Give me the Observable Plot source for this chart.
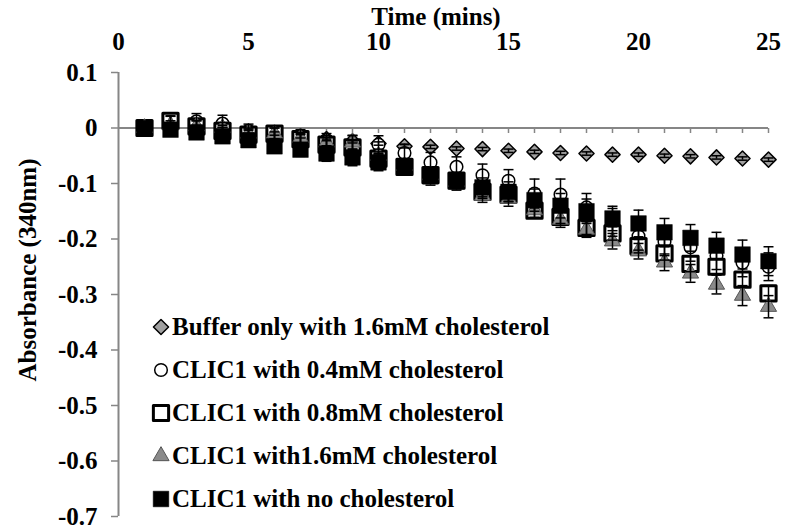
<!DOCTYPE html>
<html><head><meta charset="utf-8">
<script src="https://cdn.jsdelivr.net/npm/d3@7"></script>
<script src="https://cdn.jsdelivr.net/npm/@observablehq/plot@0.6"></script>
<style>
body{margin:0;background:#fff;}
#wrap{position:relative;width:788px;height:532px;font-family:"Liberation Serif","Times New Roman",serif;font-weight:bold;color:#000;}
#legend{position:absolute;left:150px;top:305px;font-size:25px;}
.item{display:flex;align-items:center;height:43px;white-space:nowrap;}
.item svg{width:22px;height:22px;}
#xtitle{position:absolute;left:436px;top:17px;transform:translate(-50%,-50%);font-size:25px;white-space:nowrap;}
#ytitle{position:absolute;left:28px;top:270px;transform:translate(-50%,-50%) rotate(-90deg);font-size:25px;white-space:nowrap;}
</style></head><body><div id="wrap"><div id="chart"></div><div id="xtitle">Time (mins)</div><div id="ytitle">Absorbance (340nm)</div><div id="legend"></div></div>
<script>
const times = [1,2,3,4,5,6,7,8,9,10,11,12,13,14,15,16,17,18,19,20,21,22,23,24,25];
const seriesNames = [
  "Buffer only with 1.6mM cholesterol",
  "CLIC1 with 0.4mM cholesterol",
  "CLIC1 with 0.8mM cholesterol",
  "CLIC1 with1.6mM cholesterol",
  "CLIC1 with no cholesterol"
];
const buffer   = [0,0.005,0.002,-0.002,-0.007,-0.010,-0.015,-0.020,-0.024,-0.028,-0.033,-0.034,-0.037,-0.038,-0.041,-0.043,-0.045,-0.046,-0.048,-0.048,-0.050,-0.051,-0.053,-0.055,-0.057];
const clic04   = [0,0.012,0.012,0.008,-0.005,-0.008,-0.015,-0.022,-0.027,-0.030,-0.045,-0.062,-0.070,-0.085,-0.095,-0.118,-0.120,-0.143,-0.170,-0.195,-0.205,-0.215,-0.230,-0.243,-0.250];
const clic08   = [0,0.013,0.003,-0.005,-0.012,-0.010,-0.020,-0.030,-0.035,-0.055,-0.070,-0.085,-0.095,-0.115,-0.120,-0.149,-0.160,-0.180,-0.190,-0.213,-0.226,-0.245,-0.250,-0.273,-0.298];
const clic16   = [0,0.005,0.003,0.000,-0.010,-0.010,-0.018,-0.026,-0.026,-0.050,-0.068,-0.085,-0.097,-0.122,-0.127,-0.148,-0.165,-0.183,-0.204,-0.222,-0.242,-0.262,-0.282,-0.302,-0.322];
const clicNone = [0,-0.003,-0.008,-0.015,-0.022,-0.033,-0.039,-0.046,-0.053,-0.062,-0.070,-0.087,-0.096,-0.107,-0.115,-0.130,-0.140,-0.150,-0.163,-0.172,-0.188,-0.198,-0.212,-0.228,-0.240];
const errBuffer= [0,0.003,0.003,0.003,0.003,0.003,0.003,0.003,0.003,0.003,0.003,0.003,0.003,0.003,0.003,0.003,0.003,0.003,0.003,0.003,0.003,0.003,0.003,0.003,0.003];
const err04    = [0,0.010,0.014,0.015,0.012,0.012,0.012,0.012,0.014,0.016,0.016,0.018,0.018,0.020,0.020,0.026,0.028,0.025,0.025,0.025,0.025,0.025,0.025,0.025,0.025];
const err08    = [0,0.008,0.010,0.010,0.010,0.010,0.010,0.010,0.012,0.012,0.012,0.012,0.012,0.012,0.012,0.012,0.012,0.012,0.012,0.012,0.012,0.014,0.014,0.014,0.014];
const err16    = [0,0.008,0.010,0.010,0.010,0.010,0.010,0.012,0.012,0.012,0.012,0.012,0.012,0.012,0.014,0.014,0.014,0.014,0.014,0.014,0.015,0.016,0.017,0.018,0.020];
const errNone  = [0,0.006,0.010,0.012,0.012,0.012,0.012,0.014,0.015,0.015,0.015,0.016,0.016,0.017,0.018,0.020,0.022,0.022,0.022,0.024,0.025,0.024,0.024,0.026,0.026];
const xTicks = [0,5,10,15,20,25];
const yTicks = [0.1,0,-0.1,-0.2,-0.3,-0.4,-0.5,-0.6,-0.7];

const mk = (vals, errs) => times.map((t,i) => ({t, v: vals[i], e: errs[i]}));
const dBuffer = mk(buffer, errBuffer), d04 = mk(clic04, err04), d08 = mk(clic08, err08),
      d16 = mk(clic16, err16), dNone = mk(clicNone, errNone);

const capSym = {draw(ctx){ ctx.moveTo(-5,0); ctx.lineTo(5,0); }};
const tickSym = {draw(ctx){ ctx.moveTo(0,0); ctx.lineTo(0,5); }};
const font = '"Liberation Serif","Times New Roman",serif';
const gray = "#868686";

function errMarks(data){
  return [
    Plot.ruleX(data, {x:"t", y1: d=>d.v-d.e, y2: d=>d.v+d.e, stroke:"#000", strokeWidth:1.5}),
    Plot.dot(data, {x:"t", y: d=>d.v+d.e, symbol: capSym, stroke:"#000", strokeWidth:1.5}),
    Plot.dot(data, {x:"t", y: d=>d.v-d.e, symbol: capSym, stroke:"#000", strokeWidth:1.5})
  ];
}

const styles = [
  {data:dBuffer, symbol:"diamond2", r:6.8, fill:"#a0a0a0", stroke:"#000", strokeWidth:1.5},
  {data:d04, symbol:"circle", r:6.3, fill:"#fff", stroke:"#000", strokeWidth:1.5},
  {data:d08, symbol:"square", r:8.6, fill:"#fff", stroke:"#000", strokeWidth:3},
  {data:d16, symbol:"triangle", r:6, fill:"#8a8a8a", stroke:"#555", strokeWidth:1},
  {data:dNone, symbol:"square", r:8.8, fill:"#000", stroke:"#000", strokeWidth:0.5}
];

const marks = [
  Plot.ruleY([0], {x1:0, x2:25, stroke:gray, strokeWidth:2}),
  Plot.dot(times, {x: d=>d, y: ()=>0, symbol: tickSym, stroke:gray, strokeWidth:1.5}),
  Plot.axisY({ticks:yTicks, tickSize:7, tickPadding:14, stroke:gray, strokeWidth:1.5, fontSize:25, fontWeight:"bold", fill:"#000",
    tickFormat: d => d===0 ? "0" : d.toFixed(1), label:null}),
  Plot.ruleX([0], {y1:-0.7, y2:0.1, stroke:gray, strokeWidth:2}),
  Plot.text(xTicks, {x: d=>d, frameAnchor:"top", lineAnchor:"middle", dy:-30.5, text: d=>String(d), fontSize:25, fontWeight:"bold", fill:"#000"})
];
for (const s of styles){
  marks.push(Plot.dot(s.data, {x:"t", y:"v", symbol:s.symbol, r:s.r, fill:s.fill, stroke:s.stroke, strokeWidth:s.strokeWidth, strokeLinejoin:"round"}));
}
for (const s of styles) marks.push(...errMarks(s.data));

const chart = Plot.plot({
  width:788, height:532,
  marginLeft:118, marginRight:20, marginTop:72, marginBottom:16,
  style:{fontFamily:font, background:"#fff", overflow:"visible"},
  x:{domain:[0,25], axis:null},
  y:{domain:[-0.7,0.1], axis:null},
  marks
});
document.getElementById("chart").appendChild(chart);

// legend
const legend = document.getElementById("legend");
const typeMap = {diamond2:d3.symbolDiamond2, circle:d3.symbolCircle, square:d3.symbolSquare, triangle:d3.symbolTriangle};
styles.forEach((s,i) => {
  const item = document.createElement("div");
  item.className = "item";
  const path = d3.symbol(typeMap[s.symbol], Math.PI*s.r*s.r)();
  item.innerHTML = `<svg viewBox="-11 -11 22 22"><path d="${path}" fill="${s.fill}" stroke="${s.stroke}" stroke-width="${s.strokeWidth}" stroke-linejoin="round"/></svg><span>${seriesNames[i]}</span>`;
  legend.appendChild(item);
});
</script></body></html>
